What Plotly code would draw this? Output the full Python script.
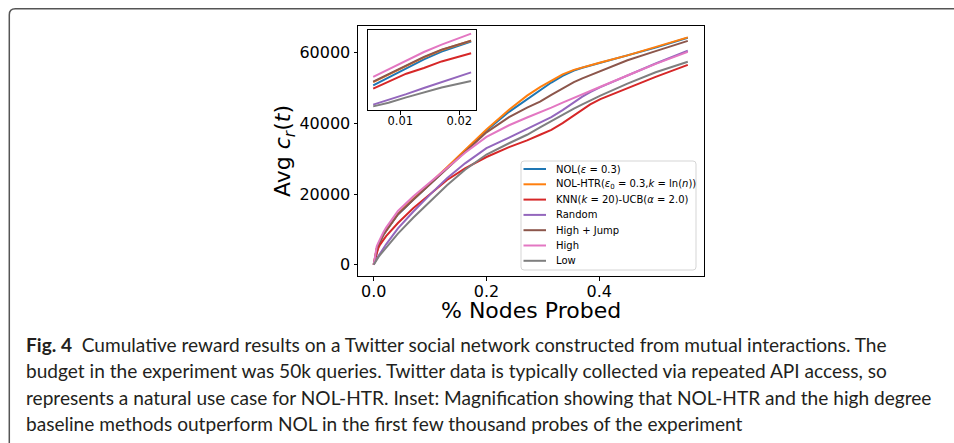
import plotly.graph_objects as go

W, H = 954, 443

# fraction of nodes probed (shared grid for every policy)
x_probed = [0, 0.0054, 0.008, 0.011, 0.014, 0.017, 0.022, 0.043, 0.07, 0.102, 0.13,
            0.162, 0.2, 0.24, 0.272, 0.295, 0.315, 0.335, 0.355, 0.37, 0.384, 0.402,
            0.45, 0.5, 0.557]

# average cumulative reward per policy
nol = [0, 4170, 5150, 6300, 7350, 8300, 9520, 14200, 18400, 23100, 27400, 32300, 38000,
       43300, 46900, 49500, 51600, 53500, 55000, 55800, 56400, 57200, 59300, 61500, 64300]
nol_htr = [0, 4560, 5500, 6600, 7600, 8500, 9620, 14400, 18600, 23300, 27600, 32500, 38300,
           43900, 47900, 50300, 52200, 53900, 55200, 55900, 56500, 57300, 59300, 61600, 64400]
knn_ucb = [0, 3770, 4650, 5600, 6300, 7100, 8090, 11800, 16000, 20200, 24000, 27300, 30500,
           33300, 35200, 36800, 38200, 40100, 42300, 44000, 45400, 46900, 50000, 53200, 56600]
random_walk = [0, 1810, 2380, 3100, 3850, 4550, 5760, 10300, 15000, 20200, 24500, 28700, 33000,
               36000, 38400, 40100, 41800, 43800, 46000, 47600, 48900, 50300, 53600, 57000, 60600]
high_jump = [0, 4630, 5550, 6650, 7650, 8550, 9640, 14300, 18400, 23000, 27200, 31900, 37500,
             41800, 44500, 46200, 48100, 50000, 51700, 52800, 53700, 55000, 57900, 60500, 63400]
high = [0, 5200, 6150, 7250, 8250, 9150, 10500, 15200, 19300, 23600, 27600, 31700, 36200,
        39500, 41700, 43100, 44500, 45900, 47300, 48300, 49300, 50400, 53600, 56900, 60300]
low = [0, 1600, 2050, 2700, 3300, 3900, 4710, 8800, 13300, 18200, 22500, 26900, 31200,
       34400, 36800, 38900, 40700, 42500, 44200, 45400, 46500, 47900, 51300, 54500, 57500]

series_labels = [
    "NOL(<i>ε</i> = 0.3)",
    "NOL-HTR(<i>ε</i><sub>0</sub> = 0.3,<i>k</i> = ln(<i>n</i>))",
    "KNN(<i>k</i> = 20)-UCB(<i>α</i> = 2.0)",
    "Random",
    "High + Jump",
    "High",
    "Low",
]
series_values = [nol, nol_htr, knn_ucb, random_walk, high_jump, high, low]
series_colors = ["#1f77b4", "#ff7f0e", "#d62728", "#9467bd", "#8c564b", "#e377c2", "#7f7f7f"]

x_ticks = [0.0, 0.2, 0.4]
y_ticks = [0, 20000, 40000, 60000]
inset_ticks = [0.01, 0.02]
inset_lo, inset_hi = 0.0054, 0.022

caption_lines = [
    "<b>Fig. 4</b>\u00a0\u00a0Cumulative reward results on a Twitter social network constructed from mutual interactions. The",
    "budget in the experiment was 50k queries. Twitter data is typically collected via repeated API access, so",
    "represents a natural use case for NOL-HTR. Inset: Magnification showing that NOL-HTR and the high degree",
    "baseline methods outperform NOL in the first few thousand probes of the experiment",
]

TICK_FONT = "DejaVu Sans"
CAPTION_FONT = "Lato, sans-serif"


def fx(px):
    return px / W


def fy(px):
    return 1 - px / H


def padded(lo, hi, frac=0.05):
    span = hi - lo
    return [lo - frac * span, hi + frac * span]


fig = go.Figure()

# main curves
for lab, vals, col in zip(series_labels, series_values, series_colors):
    fig.add_trace(go.Scatter(x=x_probed, y=vals, mode="lines", name=lab,
                             line=dict(color=col, width=2), showlegend=False,
                             xaxis="x", yaxis="y"))

# magnified early part of the budget
inset_idx = [i for i, v in enumerate(x_probed) if inset_lo <= v <= inset_hi]
inset_y = []
for lab, vals, col in zip(series_labels, series_values, series_colors):
    xs = [x_probed[i] for i in inset_idx]
    ys = [vals[i] for i in inset_idx]
    inset_y += ys
    fig.add_trace(go.Scatter(x=xs, y=ys, mode="lines", name=lab,
                             line=dict(color=col, width=2), showlegend=False,
                             xaxis="x2", yaxis="y2"))

all_y = [v for s in series_values for v in s]
axis_common = dict(showgrid=False, zeroline=False, showline=True, mirror=True,
                   linecolor="black", linewidth=1, ticks="outside", ticklen=3.5,
                   tickwidth=0.8, tickcolor="black")

fig.update_layout(
    width=W, height=H,
    margin=dict(l=0, r=0, t=0, b=0),
    paper_bgcolor="white", plot_bgcolor="white",
    xaxis=dict(domain=[fx(358), fx(703.5)], range=padded(min(x_probed), max(x_probed)),
               tickvals=x_ticks, ticktext=[f"{v:.1f}" for v in x_ticks],
               tickfont=dict(family=TICK_FONT, size=16, color="black"), anchor="y",
               ticklabelstandoff=-3, **axis_common),
    yaxis=dict(domain=[fy(276), fy(26)], range=padded(min(all_y), max(all_y)),
               tickvals=y_ticks, ticktext=[str(v) for v in y_ticks],
               tickfont=dict(family=TICK_FONT, size=16, color="black"), anchor="x",
               **axis_common),
    xaxis2=dict(domain=[fx(368.3), fx(476)], range=padded(inset_lo, inset_hi),
                tickvals=inset_ticks, ticktext=[f"{v:.2f}" for v in inset_ticks],
                tickfont=dict(family=TICK_FONT, size=11.5, color="black"), anchor="y2",
                ticklabelstandoff=-3, **axis_common),
    yaxis2=dict(domain=[fy(110), fy(30)], range=padded(min(inset_y), max(inset_y)),
                showticklabels=False, anchor="x2",
                **{**axis_common, "ticks": ""}),
)

shapes = []
annotations = []

# page frame (left and top edges with a rounded corner)
r = 6
shapes.append(dict(
    type="path", xref="paper", yref="paper",
    path=(f"M {fx(9.3)},{fy(443)} L {fx(9.3)},{fy(8.7 + r)} "
          f"Q {fx(9.3)},{fy(8.7)} {fx(9.3 + r)},{fy(8.7)} L {fx(954)},{fy(8.7)}"),
    line=dict(color="#555555", width=1.5), layer="above"))

# axis titles
annotations.append(dict(text="% Nodes Probed", x=fx(530.5), y=fy(310), xref="paper", yref="paper",
                        showarrow=False, xanchor="center", yanchor="middle",
                        font=dict(family=TICK_FONT, size=22, color="black")))
annotations.append(dict(text="Avg <i>c</i><sub><i>r</i></sub>(<i>t</i>)", x=fx(284), y=fy(151),
                        xref="paper", yref="paper", showarrow=False, textangle=-90,
                        xanchor="center", yanchor="middle",
                        font=dict(family=TICK_FONT, size=22, color="black")))

# legend box
lx0, lx1, ly0, ly1, lr = 521, 696, 161, 270, 3
shapes.append(dict(
    type="path", xref="paper", yref="paper",
    path=(f"M {fx(lx0 + lr)},{fy(ly0)} L {fx(lx1 - lr)},{fy(ly0)} "
          f"Q {fx(lx1)},{fy(ly0)} {fx(lx1)},{fy(ly0 + lr)} L {fx(lx1)},{fy(ly1 - lr)} "
          f"Q {fx(lx1)},{fy(ly1)} {fx(lx1 - lr)},{fy(ly1)} L {fx(lx0 + lr)},{fy(ly1)} "
          f"Q {fx(lx0)},{fy(ly1)} {fx(lx0)},{fy(ly1 - lr)} L {fx(lx0)},{fy(ly0 + lr)} "
          f"Q {fx(lx0)},{fy(ly0)} {fx(lx0 + lr)},{fy(ly0)} Z"),
    line=dict(color="#d5d5d5", width=1), fillcolor="rgba(255,255,255,0.8)", layer="above"))

row0, row_gap = 169, 15.3
for k, (lab, col) in enumerate(zip(series_labels, series_colors)):
    yy = row0 + k * row_gap
    shapes.append(dict(type="line", xref="paper", yref="paper",
                       x0=fx(523.5), x1=fx(546), y0=fy(yy), y1=fy(yy),
                       line=dict(color=col, width=2), layer="above"))
    annotations.append(dict(text=lab, x=fx(554), y=fy(yy), xref="paper", yref="paper",
                            showarrow=False, xanchor="left", yanchor="middle",
                            font=dict(family=TICK_FONT, size=10, color="black")))

# figure caption
cap_y = [344, 370.5, 397, 423.5]
for line, yy in zip(caption_lines, cap_y):
    annotations.append(dict(text=line, x=fx(23.5), y=fy(yy), xref="paper", yref="paper",
                            showarrow=False, xanchor="left", yanchor="middle",
                            font=dict(family=CAPTION_FONT, size=19.1, color="#231f20")))

fig.update_layout(shapes=shapes, annotations=annotations)
fig.write_html("out.html")
